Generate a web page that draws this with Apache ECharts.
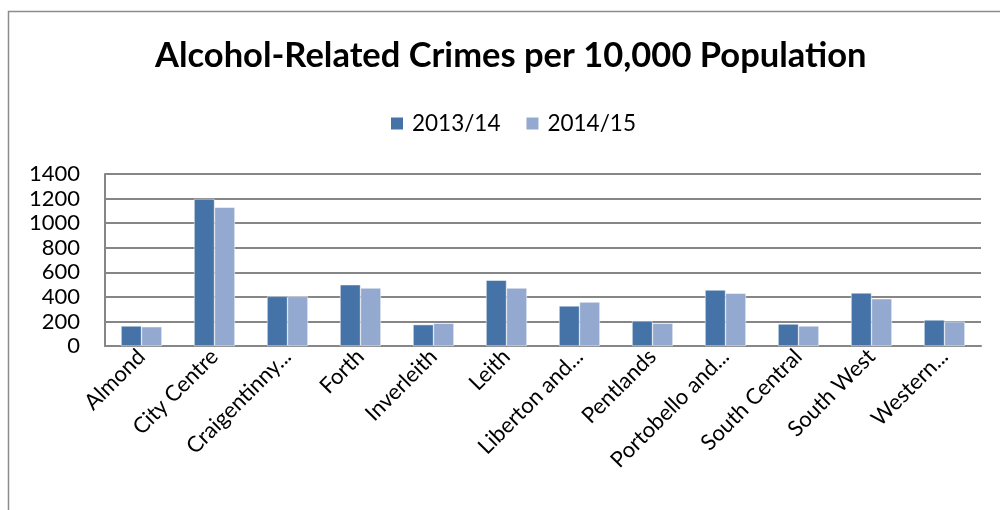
<!DOCTYPE html>
<html>
<head>
<meta charset="utf-8">
<script src="https://cdn.jsdelivr.net/npm/echarts@6/dist/echarts.min.js"></script>
<style>
  html, body { margin: 0; padding: 0; background: #fff; }
  #chart { width: 1000px; height: 510px; }
</style>
</head>
<body>
<div id="chart"></div>
<script>
// Neighbourhood partnership areas (labels as shown on the axis)
const categories = [
  'Almond', 'City Centre', 'Craigentinny...', 'Forth', 'Inverleith', 'Leith',
  'Liberton and...', 'Pentlands', 'Portobello and...', 'South Central',
  'South West', 'Western...'
];

// Alcohol-related crimes per 10,000 population
const values2013 = [163, 1197, 404, 499, 174, 535, 326, 204, 456, 179, 432, 212];
const values2014 = [157, 1129, 404, 472, 185, 472, 358, 185, 429, 163, 385, 198];

const seriesNames = ['2013/14', '2014/15'];
const yTicks = { min: 0, max: 1400, interval: 200 };

const FONT = 'Lato, "Open Sans", sans-serif';
const chart = echarts.init(document.getElementById('chart'), null, { renderer: 'canvas' });

chart.setOption({
  backgroundColor: '#ffffff',
  animation: false,
  title: {
    text: 'Alcohol-Related Crimes per 10,000 Population',
    left: 150,
    top: 33,
    textStyle: { fontFamily: FONT, fontWeight: 'bold', fontSize: 34.5, color: '#000' }
  },
  legend: {
    data: seriesNames,
    top: 107,
    left: 384,
    itemWidth: 14,
    itemHeight: 14,
    itemGap: 24,
    icon: 'rect',
    textStyle: { fontFamily: FONT, fontSize: 22.5, color: '#000', padding: [0, 0, 0, 3] }
  },
  grid: { left: 105, right: 19, top: 174, bottom: 164, containLabel: false },
  xAxis: {
    type: 'category',
    data: categories,
    axisLine: { lineStyle: { color: '#868686', width: 2 } },
    axisTick: { show: false },
    axisLabel: {
      rotate: 45,
      interval: 0,
      fontFamily: FONT,
      fontSize: 22,
      color: '#000',
      margin: 7
    }
  },
  yAxis: {
    type: 'value',
    min: yTicks.min,
    max: yTicks.max,
    interval: yTicks.interval,
    axisLine: { show: true, lineStyle: { color: '#868686', width: 2 } },
    axisTick: { show: false },
    splitLine: { lineStyle: { color: '#868686', width: 2 } },
    axisLabel: {
      fontFamily: FONT,
      fontSize: 22,
      color: '#000',
      margin: 25,
      formatter: (v) => String(v)
    }
  },
  series: [
    {
      name: seriesNames[0],
      type: 'bar',
      data: values2013,
      barGap: '0%',
      barCategoryGap: '44%',
      itemStyle: { color: '#4572A7', borderColor: '#ffffff', borderWidth: 0.5 }
    },
    {
      name: seriesNames[1],
      type: 'bar',
      data: values2014,
      itemStyle: { color: '#93A9CF', borderColor: '#ffffff', borderWidth: 0.5 }
    }
  ],
  graphic: [
    {
      type: 'rect',
      shape: { x: 8.5, y: 11.5, width: 1100, height: 600 },
      style: { fill: 'none', stroke: '#8c8c8c', lineWidth: 1.5 },
      silent: true
    }
  ]
});
</script>
</body>
</html>
